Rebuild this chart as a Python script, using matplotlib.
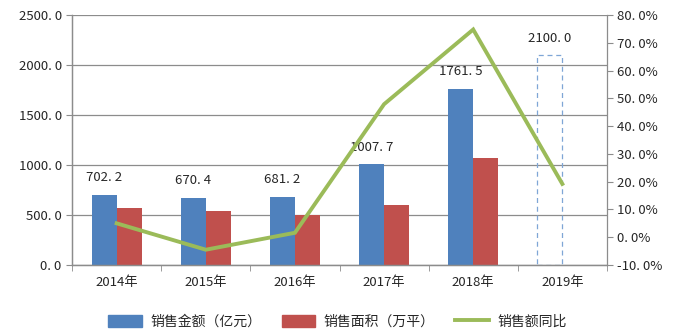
import numpy as np
import matplotlib
matplotlib.use("Agg")
import matplotlib.pyplot as plt
from matplotlib.patches import Patch, Rectangle
from matplotlib.lines import Line2D
from matplotlib.ticker import FixedLocator

plt.rcParams['font.family'] = ['Noto Sans CJK SC', 'DejaVu Sans']

# data
years = ['2014年', '2015年', '2016年', '2017年', '2018年', '2019年']
sales_amount = [702.2, 670.4, 681.2, 1007.7, 1761.5]   # 亿元
sales_area = [570, 540, 500, 600, 1070]               # 万平
forecast_2019 = 2100.0
yoy = [5.0, -4.5, 1.6, 47.9, 74.8, 19.2]              # %

blue = '#4F81BD'
red = '#C0504D'
green = '#9BBB59'
grid_c = '#8C8C8C'

fig = plt.figure(figsize=(7, 3.35), dpi=100)
ax = fig.add_axes([0.103, 0.209, 0.764, 0.746])
ax2 = ax.twinx()

x = np.arange(len(years))
w = 0.28
n = len(sales_amount)

ax.bar(x[:n] - w / 2, sales_amount, w, color=blue, zorder=2)
ax.bar(x[:n] + w / 2, sales_area, w, color=red, zorder=2)

# dashed forecast box for 2019
ax.add_patch(Rectangle((x[5] - w, 0), w, forecast_2019, fill=False,
                       edgecolor='#7FA6D6', linestyle=(0, (4, 3)), linewidth=0.9, zorder=2))

labels = list(sales_amount) + [forecast_2019]
xs = list(x[:n] - w / 2) + [x[5] - w / 2]
for xi, v in zip(xs, labels):
    ax.text(xi, v + 170, f'{v:.1f}'.replace('.', '. '), ha='center', va='center',
            fontsize=9.5, color='#262626', zorder=4)

ax.set_xlim(-0.5, 5.5)
ax.set_ylim(0, 2500)
ax.set_yticks(np.arange(0, 2501, 500))
ax.set_yticklabels([f'{v:.1f}'.replace('.', '. ') for v in np.arange(0, 2501, 500)])
ax.yaxis.grid(True, color=grid_c, linewidth=0.9, zorder=0)
ax.set_axisbelow(True)

ax.set_xticks(x)
ax.set_xticklabels(years)
ax.xaxis.set_minor_locator(FixedLocator(np.arange(-0.5, 6, 1)))
ax.tick_params(axis='x', which='major', length=0, pad=8, labelsize=9.5, colors='#262626')
ax.tick_params(axis='x', which='minor', length=4, color=grid_c, direction='out')
ax.tick_params(axis='y', length=4, color=grid_c, labelsize=9.5, labelcolor='#262626')

ax2.plot(x, yoy, color=green, linewidth=2.8, zorder=3, solid_joinstyle='miter')
ax2.set_ylim(-10, 80)
ax2.set_yticks(np.arange(-10, 81, 10))
ax2.set_yticklabels([f'{v:.1f}%'.replace('.', '. ') for v in np.arange(-10, 81, 10)])
ax2.tick_params(axis='y', length=4, color=grid_c, labelsize=9.5, labelcolor='#262626')

for a in (ax, ax2):
    a.spines['top'].set_visible(False)
    for s in ('left', 'right', 'bottom'):
        a.spines[s].set_color(grid_c)
        a.spines[s].set_linewidth(0.9)
ax.spines['right'].set_visible(False)

handles = [Patch(color=blue, label='销售金额（亿元）'),
           Patch(color=red, label='销售面积（万平）'),
           Line2D([0], [0], color=green, linewidth=2.8, label='销售额同比')]
fig.legend(handles=handles, loc='center', bbox_to_anchor=(0.482, 0.04), ncol=3,
           frameon=False, fontsize=10, handlelength=2.4, handleheight=0.9,
           columnspacing=1.5, handletextpad=0.6, labelcolor='#262626')

fig.savefig('out.png', dpi=100, facecolor='white')
